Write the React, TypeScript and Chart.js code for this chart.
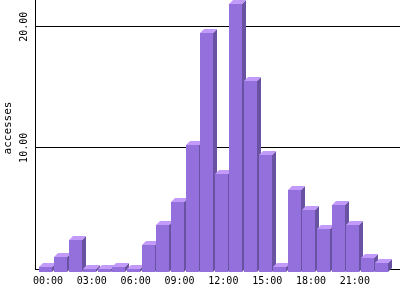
import React, { useEffect, useRef } from "react";
import { Chart, registerables } from "chart.js";

Chart.register(...registerables);

const hours = [
  "00:00", "01:00", "02:00", "03:00", "04:00", "05:00", "06:00", "07:00",
  "08:00", "09:00", "10:00", "11:00", "12:00", "13:00", "14:00", "15:00",
  "16:00", "17:00", "18:00", "19:00", "20:00", "21:00", "22:00", "23:00",
];
const accesses = [
  0.17, 1.0, 2.4, 0, 0, 0.17, 0, 2.0, 3.66, 5.5, 10.25, 19.47,
  7.8, 21.84, 15.5, 9.4, 0.17, 6.5, 4.9, 3.3, 5.3, 3.6, 0.93, 0.5,
];
const xTickIndices = [0, 3, 6, 9, 12, 15, 18, 21];
const yTickValues = [0, 10, 20];
const yLabelValues = [10, 20];
const yTitle = "accesses";

const FRONT = "#9370db";
const TOP = "#c29bfa";
const SIDE = "#6a52a3";
const FONT = "'DejaVu Sans Mono', monospace";

const bar3dPlugin = {
  id: "bar3d",
  afterDatasetsDraw(chart: any) {
    const ctx = chart.ctx;
    const meta = chart.getDatasetMeta(0);
    const d = 4;
    ctx.save();
    meta.data.forEach((el: any) => {
      const p = el.getProps(["x", "y", "base", "width"], true);
      const left = Math.round(p.x - p.width / 2 - d / 2);
      const right = Math.round(left + p.width);
      const top = Math.round(p.y);
      const bottom = Math.round(p.base) + 3;
      ctx.fillStyle = SIDE;
      ctx.beginPath();
      ctx.moveTo(right, top);
      ctx.lineTo(right + d, top - d);
      ctx.lineTo(right + d, bottom - d);
      ctx.lineTo(right, bottom);
      ctx.closePath();
      ctx.fill();
      ctx.fillStyle = TOP;
      ctx.beginPath();
      ctx.moveTo(left, top);
      ctx.lineTo(left + d, top - d);
      ctx.lineTo(right + d, top - d);
      ctx.lineTo(right, top);
      ctx.closePath();
      ctx.fill();
      ctx.fillStyle = FRONT;
      ctx.fillRect(left, top, right - left, bottom - top);
    });
    ctx.restore();
  },
  afterDraw(chart: any) {
    const ctx = chart.ctx;
    const yScale = chart.scales.y;
    ctx.save();
    ctx.fillStyle = "#000";
    ctx.textAlign = "center";
    ctx.textBaseline = "middle";
    ctx.font = `10px ${FONT}`;
    yLabelValues.forEach((v) => {
      const py = yScale.getPixelForValue(v);
      ctx.save();
      ctx.translate(24, py);
      ctx.rotate(-Math.PI / 2);
      ctx.fillText(v.toFixed(2), 0, 0);
      ctx.restore();
    });
    ctx.font = `11px ${FONT}`;
    ctx.save();
    ctx.translate(8, 128);
    ctx.rotate(-Math.PI / 2);
    ctx.fillText(yTitle, 0, 0);
    ctx.restore();
    ctx.restore();
  },
};

export default function App() {
  const ref = useRef<HTMLCanvasElement | null>(null);
  useEffect(() => {
    document.body.style.margin = "0";
    const canvas = ref.current;
    if (!canvas) return;
    const chart = new Chart(canvas, {
      type: "bar",
      data: {
        datasets: [
          {
            label: yTitle,
            data: accesses.map((v, i) => ({ x: i, y: v })),
            backgroundColor: "rgba(0,0,0,0)",
            borderWidth: 0,
            barPercentage: 0.9,
            categoryPercentage: 1.0,
          },
        ],
      },
      options: {
        animation: false,
        responsive: false,
        layout: { padding: { left: 35, right: 0, top: 0, bottom: 7 } },
        plugins: { legend: { display: false }, tooltip: { enabled: false } },
        scales: {
          x: {
            type: "linear",
            offset: false,
            min: -0.89,
            max: 24.09,
            afterBuildTicks: (scale: any) => {
              scale.ticks = xTickIndices.map((v) => ({ value: v }));
            },
            ticks: {
              autoSkip: false,
              maxRotation: 0,
              minRotation: 0,
              padding: 6,
              color: "#000",
              font: { family: FONT, size: 10 },
              callback: (v: any) => hours[v as number] ?? "",
            },
            grid: { display: false, drawTicks: false },
            border: { display: true, color: "#000", width: 1 },
          },
          y: {
            type: "linear",
            min: 0,
            max: 22.2,
            afterBuildTicks: (scale: any) => {
              scale.ticks = yTickValues.map((v) => ({ value: v }));
            },
            ticks: { display: false },
            grid: { display: true, color: "#000", lineWidth: 1, drawTicks: false },
            border: { display: true, color: "#000", width: 1 },
            title: { display: false },
          },
        },
      },
      plugins: [bar3dPlugin],
    });
    return () => chart.destroy();
  }, []);
  return (
    <div style={{ width: 400, height: 300 }}>
      <canvas ref={ref} width={400} height={300} style={{ display: "block" }} />
    </div>
  );
}
